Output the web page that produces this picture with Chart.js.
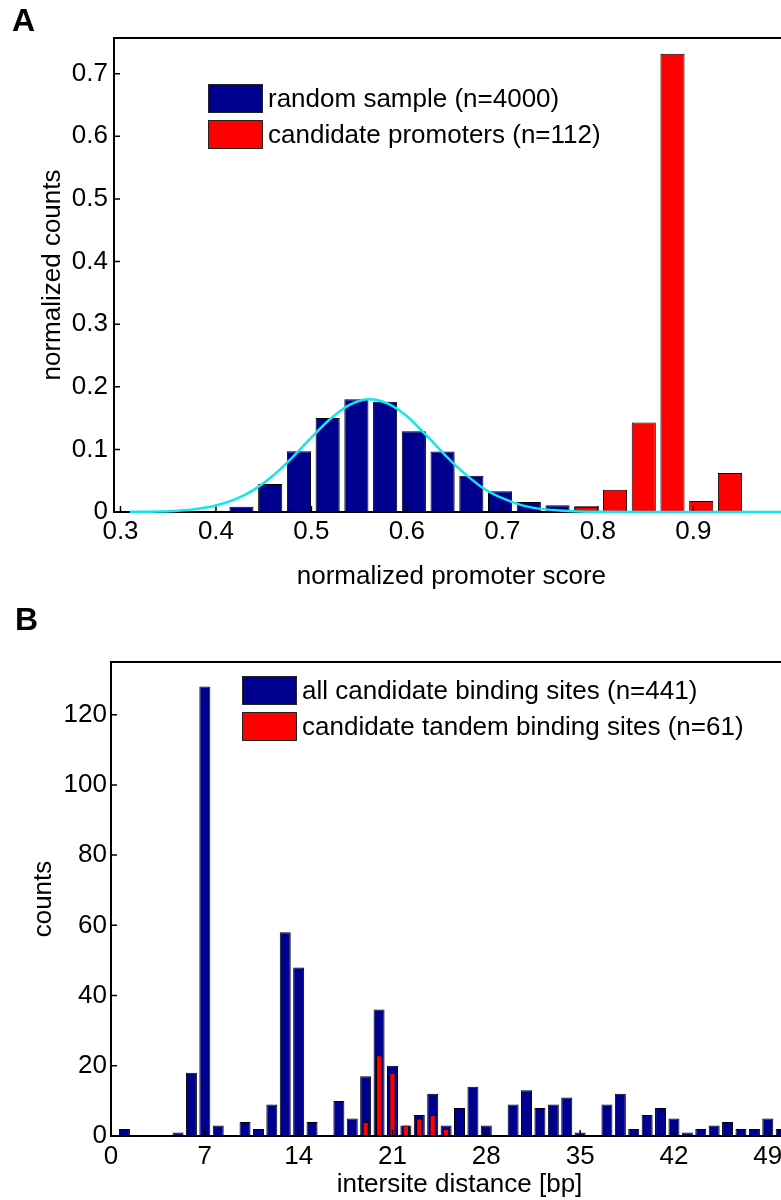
<!DOCTYPE html>
<html>
<head>
<meta charset="utf-8">
<script src="https://cdn.jsdelivr.net/npm/chart.js@4.4.1/dist/chart.umd.min.js"></script>
<style>
  html, body { margin: 0; padding: 0; overflow: hidden; background: #fff; }
  #wrap { position: relative; width: 781px; height: 1200px; overflow: hidden; }
  canvas { position: absolute; left: 0; }
  #chartA { top: 0; }
  #chartB { top: 600px; }
  .panel { position: absolute; font: bold 32px 'Liberation Sans', Arial, sans-serif; line-height: 32px; }
  .legend { position: absolute; font: 26px 'Liberation Sans', Arial, sans-serif; color: #000; }
  .row { display: flex; align-items: center; height: 36.5px; white-space: nowrap; }
  .swatch { width: 53px; height: 27px; border: 1px solid #222; margin-right: 5px; box-sizing: content-box; }
</style>
</head>
<body>
<div id="wrap">
  <canvas id="chartA" width="800" height="600"></canvas>
  <canvas id="chartB" width="830" height="600"></canvas>
  <div class="panel" style="left:12px; top:4px;">A</div>
  <div class="panel" style="left:15px; top:603px;">B</div>
  <div class="legend" id="legendA" style="left:208px; top:80px;"></div>
  <div class="legend" id="legendB" style="left:242px; top:672px;"></div>
</div>
<script>
// Panel A: promoter score histograms
const binCentersA = [0.3063, 0.3364, 0.3665, 0.3966, 0.4267, 0.4568, 0.4869, 0.5170,
  0.5471, 0.5772, 0.6073, 0.6374, 0.6675, 0.6976, 0.7277, 0.7578, 0.7879, 0.8180,
  0.8481, 0.8782, 0.9083, 0.9384, 0.9685];
const randomSample = [0.001, 0.0005, 0.001, 0.002, 0.0085, 0.0446, 0.097, 0.150,
  0.180, 0.176, 0.129, 0.0966, 0.058, 0.033, 0.016, 0.0108, 0.009, 0,
  0, 0, 0, 0, 0.001];
const candidatePromoters = [0, 0, 0, 0, 0, 0, 0, 0,
  0, 0, 0, 0, 0, 0, 0, 0, 0.0085, 0.0354,
  0.143, 0.732, 0.0177, 0.0623, 0];
// fitted curve
const fitX = [0.31, 0.34, 0.36, 0.38, 0.40, 0.42, 0.44, 0.46, 0.48, 0.50, 0.52, 0.54,
  0.56, 0.58, 0.60, 0.62, 0.64, 0.66, 0.68, 0.70, 0.72, 0.74, 0.76, 0.78, 0.80, 0.85, 0.90, 1.00];
const fitY = [0.0002, 0.0008, 0.0021, 0.0049, 0.0104, 0.0201, 0.0358, 0.0584, 0.0872, 0.119, 0.149, 0.171,
  0.180, 0.173, 0.153, 0.123, 0.091, 0.062, 0.038, 0.022, 0.011, 0.005, 0.0024, 0.0009, 0.0003, 0, 0, 0];
const xTicksA = [0.3, 0.4, 0.5, 0.6, 0.7, 0.8, 0.9, 1.0];
const xTickLabelsA = ['0.3', '0.4', '0.5', '0.6', '0.7', '0.8', '0.9', '1'];
const yTicksA = [0, 0.1, 0.2, 0.3, 0.4, 0.5, 0.6, 0.7];
const yTickLabelsA = ['0', '0.1', '0.2', '0.3', '0.4', '0.5', '0.6', '0.7'];

// Panel B: intersite distances
const distances = [0, 1, 2, 3, 4, 5, 6, 7, 8, 9, 10, 11, 12, 13, 14, 15, 16, 17, 18, 19, 20,
  21, 22, 23, 24, 25, 26, 27, 28, 29, 30, 31, 32, 33, 34, 35, 36, 37, 38, 39, 40,
  41, 42, 43, 44, 45, 46, 47, 48, 49, 50];
const allSites = [0, 2, 0, 0, 0, 1, 18, 128, 3, 0, 4, 2, 9, 58, 48, 4, 0, 10, 5, 17, 36,
  20, 3, 6, 12, 3, 8, 14, 3, 0, 9, 13, 8, 9, 11, 1, 0, 9, 12, 2, 6,
  8, 5, 1, 2, 3, 4, 2, 2, 5, 2];
const tandemSites = [0, 0, 0, 0, 0, 0, 0, 0, 0, 0, 0, 0, 0, 0, 0, 0, 0, 0, 0, 4, 23,
  18, 3, 5, 6, 2, 0, 0, 0, 0, 0, 0, 0, 0, 0, 0, 0, 0, 0, 0, 0,
  0, 0, 0, 0, 0, 0, 0, 0, 0, 0];
const xTicksB = [0, 7, 14, 21, 28, 35, 42, 49];
const yTicksB = [0, 20, 40, 60, 80, 100, 120];

const NAVY = '#00008f';
const RED = '#ff0000';
const CYAN = '#12e6ee';

Chart.defaults.font.family = "'Liberation Sans', Arial, Helvetica, sans-serif";
Chart.defaults.font.size = 26;
Chart.defaults.color = '#000';

function pts(xs, ys) {
  return xs.map((x, i) => ({ x: x, y: ys[i] === 0 ? null : ys[i] }));
}

function drawFrame(chart) {
  const { ctx, chartArea: a, scales: { x, y } } = chart;
  ctx.save();
  ctx.strokeStyle = '#000';
  ctx.lineWidth = 1.5;
  ctx.beginPath();
  x.ticks.forEach(t => {
    const px = x.getPixelForValue(t.value);
    ctx.moveTo(px, a.bottom); ctx.lineTo(px, a.bottom - 6);
  });
  y.ticks.forEach(t => {
    const py = y.getPixelForValue(t.value);
    ctx.moveTo(a.left, py); ctx.lineTo(a.left + 6, py);
  });
  ctx.stroke();
  ctx.lineWidth = 2;
  ctx.strokeRect(a.left, a.top, a.right - a.left, a.bottom - a.top);
  ctx.restore();
}

// axis box and inward ticks, drawn under the fitted line but over the bars
const axisFrame = {
  id: 'axisFrame',
  beforeDatasetDraw(chart, args) {
    if (args.meta.type === 'line') drawFrame(chart);
  },
  afterDatasetsDraw(chart) {
    if (!chart.data.datasets.some(d => d.type === 'line')) drawFrame(chart);
  }
};

function barSet(label, xs, ys, color, pct, order) {
  return {
    label: label,
    data: pts(xs, ys),
    backgroundColor: color,
    borderColor: '#000',
    borderWidth: 1,
    borderSkipped: false,
    grouped: false,
    barPercentage: pct,
    categoryPercentage: 1,
    order: order
  };
}

function axisOpts(min, max, ticks, labels, title, pad, fit) {
  return {
    type: 'linear',
    min: min,
    max: max,
    offset: false,
    grid: { display: false, drawTicks: false },
    border: { display: false },
    afterBuildTicks: s => { s.ticks = ticks.map(v => ({ value: v })); },
    afterFit: fit,
    ticks: {
      autoSkip: false,
      maxRotation: 0,
      padding: pad,
      callback: (v, i) => labels[i]
    },
    title: { display: true, text: title, padding: 0, font: { size: 26 } }
  };
}

new Chart(document.getElementById('chartA'), {
  type: 'bar',
  data: {
    datasets: [
      barSet('random sample (n=4000)', binCentersA, randomSample, NAVY, 0.84, 2),
      barSet('candidate promoters (n=112)', binCentersA, candidatePromoters, RED, 0.84, 1),
      {
        type: 'line',
        label: 'fit',
        data: fitX.map((x, i) => ({ x: x, y: fitY[i] })),
        borderColor: CYAN,
        borderWidth: 2.5,
        pointRadius: 0,
        cubicInterpolationMode: 'monotone',
        clip: false,
        order: 0
      }
    ]
  },
  options: {
    responsive: false,
    animation: false,
    devicePixelRatio: 1,
    layout: { padding: { left: 37, top: 38, right: 11, bottom: 8 } },
    plugins: { legend: { display: false }, tooltip: { enabled: false } },
    scales: {
      x: axisOpts(0.2932, 1.0, xTicksA, xTickLabelsA, 'normalized promoter score', 4, s => { s.height = 80; }),
      y: axisOpts(0, 0.757, yTicksA, yTickLabelsA, 'normalized counts', 6, s => { s.width = 77; })
    }
  },
  plugins: [axisFrame]
});

new Chart(document.getElementById('chartB'), {
  type: 'bar',
  data: {
    datasets: [
      barSet('all candidate binding sites (n=441)', distances, allSites, NAVY, 0.82, 2),
      barSet('candidate tandem binding sites (n=61)', distances, tandemSites, RED, 0.46, 1)
    ]
  },
  options: {
    responsive: false,
    animation: false,
    devicePixelRatio: 1,
    layout: { padding: { left: 28, top: 62, right: 22, bottom: 0 } },
    plugins: { legend: { display: false }, tooltip: { enabled: false } },
    scales: {
      x: axisOpts(0, 52, xTicksB, xTicksB.map(String), 'intersite distance [bp]', 5, s => { s.height = 64; }),
      y: axisOpts(0, 135, yTicksB, yTicksB.map(String), 'counts', 4, s => { s.width = 83; })
    }
  },
  plugins: [axisFrame]
});

// legends sit inside the plot areas
function buildLegend(id, items) {
  const box = document.getElementById(id);
  items.forEach(([color, text]) => {
    const row = document.createElement('div');
    row.className = 'row';
    const sw = document.createElement('div');
    sw.className = 'swatch';
    sw.style.background = color;
    const label = document.createElement('span');
    label.textContent = text;
    row.appendChild(sw);
    row.appendChild(label);
    box.appendChild(row);
  });
}
buildLegend('legendA', [[NAVY, 'random sample (n=4000)'], [RED, 'candidate promoters (n=112)']]);
buildLegend('legendB', [[NAVY, 'all candidate binding sites (n=441)'], [RED, 'candidate tandem binding sites (n=61)']]);
</script>
</body>
</html>
